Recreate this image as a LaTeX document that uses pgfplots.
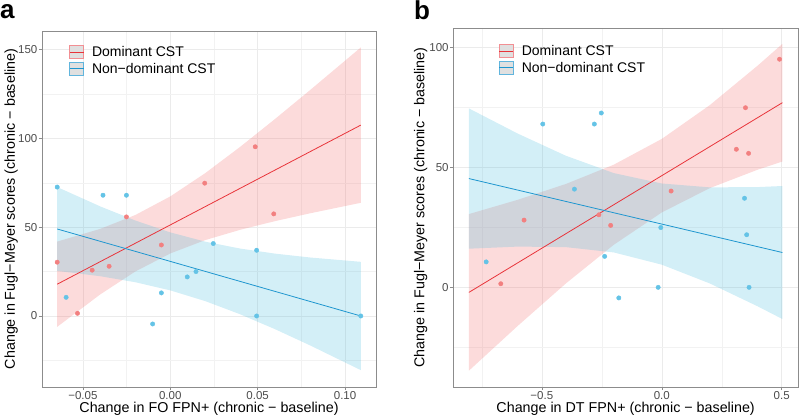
\documentclass[border=0pt]{standalone}
\usepackage{fontspec}
\setmainfont{Liberation Sans}
\usepackage{pgfplots}
\pgfplotsset{compat=1.18}
\definecolor{redline}{RGB}{232,52,58}
\definecolor{blueline}{RGB}{30,150,207}
\definecolor{redpt}{RGB}{242,128,128}
\definecolor{bluept}{RGB}{100,195,230}
\definecolor{redfill}{RGB}{243,111,111}
\definecolor{bluefill}{RGB}{80,190,222}
\definecolor{keyfill}{RGB}{224,224,224}
\pgfplotsset{
  myaxis/.style={
    scale only axis,
    axis line style={draw=black!45, line width=0.6pt},
    grid=both,
    major grid style={color=black!8, line width=0.5pt},
    minor grid style={color=black!5, line width=0.35pt},
    tick align=outside, major tick length=3pt, minor tick length=0pt,
    tick style={black!45, line width=0.5pt},
    xtick pos=bottom, ytick pos=left,
    ticklabel style={font=\fontsize{11.5}{12}\selectfont, text=black!70},
    xticklabel style={inner sep=0pt, yshift=-1.5pt},
    yticklabel style={inner sep=0pt, xshift=-1.5pt},
    label style={font=\fontsize{14.3}{15}\selectfont},
    legend cell align=left,
    legend style={draw=none, fill=none, anchor=north west, inner sep=0pt, row sep=1pt,
      font=\fontsize{14}{15}\selectfont,
      /tikz/every odd column/.append style={column sep=6pt}},
  },
  redkey/.style={legend image code/.code={
    \draw[fill=keyfill, draw=redline!55, line width=0.8pt] (0pt,-6.5pt) rectangle (14pt,6.5pt);
    \draw[redline, line width=0.8pt] (0pt,0pt) -- (14pt,0pt);}},
  bluekey/.style={legend image code/.code={
    \draw[fill=keyfill, draw=blueline!70, line width=0.8pt] (0pt,-6.5pt) rectangle (14pt,6.5pt);
    \draw[blueline, line width=0.8pt] (0pt,0pt) -- (14pt,0pt);}},
}
\begin{document}
\begin{tikzpicture}
\path[use as bounding box] (0pt,0pt) rectangle (800pt,418pt);
\node[anchor=base west, inner sep=0pt, font=\bfseries\fontsize{26}{26}\selectfont] at (0pt,399pt) {a};
\node[anchor=base west, inner sep=0pt, font=\bfseries\fontsize{26}{26}\selectfont] at (414pt,398pt) {b};
% ---------------- panel a ----------------
\begin{axis}[myaxis, at={(42pt,31pt)}, anchor=south west, width=334pt, height=356pt,
  xmin=-0.0734, xmax=0.1177, ymin=-40, ymax=160.5,
  xtick={-0.05,0,0.05,0.1}, xticklabels={−0.05,0.00,0.05,0.10},
  minor xtick={-0.025,0.025,0.075},
  ytick={0,50,100,150}, yticklabels={0,50,100,150},
  minor ytick={-25,25,75,125},
  xlabel={Change in FO FPN+ (chronic − baseline)},
  ylabel={Change in Fugl−Meyer scores (chronic − baseline)},
  xlabel style={at={(axis description cs:0.5,-0.0618)}, anchor=center},
  ylabel style={at={(axis description cs:-0.092,0.5)}, anchor=center},
  legend style={at={(0.081,0.963)}},
]
\addplot[fill=redfill, fill opacity=0.25, draw=none, forget plot] coordinates {
 (-0.0647,41.9) (-0.04,49.08) (-0.02,56.86) (0,67.33) (0.02,80.44) (0.04,95.26) (0.06,111.0) (0.08,127.23) (0.109,151.23)
 (0.109,63.75) (0.08,57.83) (0.06,53.44) (0.04,48.54) (0.02,42.74) (0,35.21) (-0.02,25.06) (-0.04,12.2) (-0.0647,-6.1)} -- cycle;
\addplot[fill=bluefill, fill opacity=0.25, draw=none, forget plot] coordinates {
 (-0.0647,72.6) (-0.04,61.68) (-0.02,53.77) (0,47.08) (0.02,41.85) (0.04,37.96) (0.06,35.11) (0.08,32.93) (0.109,30.5)
 (0.109,-30.5) (0.08,-16.57) (0.06,-7.47) (0.04,0.96) (0.02,8.37) (0,14.42) (-0.02,19.01) (-0.04,22.38) (-0.0647,25.4)} -- cycle;
\addplot[redline, line width=0.8pt, forget plot] coordinates {(-0.0647,17.9) (0.109,107.5)};
\addplot[blueline, line width=0.8pt, forget plot] coordinates {(-0.0647,49) (0.109,0)};
\addplot[only marks, mark=*, mark size=2.2pt, color=redpt, mark options={draw=none}, forget plot] coordinates {
 (-0.0647,30.3) (-0.0531,1.5) (-0.0447,25.8) (-0.035,28) (-0.0251,55.8) (-0.0051,40) (0.0197,74.8) (0.0486,95.3) (0.0592,57.5)};
\addplot[only marks, mark=*, mark size=2.2pt, color=bluept, mark options={draw=none}, forget plot] coordinates {
 (-0.0647,72.6) (-0.0596,10.5) (-0.0385,68) (-0.0251,68) (-0.0101,-4.5) (-0.0051,13) (0.0097,22) (0.0147,25) (0.0246,40.8) (0.0494,37) (0.0494,0) (0.109,0)};
\addlegendimage{redkey}
\addlegendentry{Dominant CST}
\addlegendimage{bluekey}
\addlegendentry{Non−dominant CST}
\end{axis}
% ---------------- panel b ----------------
\begin{axis}[myaxis, at={(453.3pt,31pt)}, anchor=south west, width=344.7pt, height=359pt,
  xmin=-0.869, xmax=0.568, ymin=-41.5, ymax=108,
  xtick={-0.5,0,0.5}, xticklabels={−0.5,0.0,0.5},
  minor xtick={-0.75,-0.25,0.25},
  ytick={0,50,100}, yticklabels={0,50,100},
  minor ytick={-25,25,75},
  xlabel={Change in DT FPN+ (chronic − baseline)},
  ylabel={Change in Fugl−Meyer scores (chronic − baseline)},
  xlabel style={at={(axis description cs:0.5,-0.062)}, anchor=center},
  ylabel style={at={(axis description cs:-0.0946,0.5)}, anchor=center},
  legend style={at={(0.132,0.958)}},
]
\addplot[fill=redfill, fill opacity=0.25, draw=none, forget plot] coordinates {
 (-0.804,30.51) (-0.6,36.47) (-0.4,43.04) (-0.2,51.08) (0,61.80) (0.2,75.85) (0.4,92.34) (0.503,101.39)
 (0.503,52.41) (0.4,49.00) (0.2,41.31) (0,31.18) (-0.2,17.72) (-0.4,1.60) (-0.6,-16.01) (-0.804,-34.71)} -- cycle;
\addplot[fill=bluefill, fill opacity=0.25, draw=none, forget plot] coordinates {
 (-0.804,74.51) (-0.6,64.01) (-0.4,54.81) (-0.2,47.58) (0,43.25) (0.2,41.64) (0.4,41.75) (0.503,42.20)
 (0.503,-13.20) (0.4,-7.91) (0.2,1.64) (0,9.45) (-0.2,14.54) (-0.4,16.75) (-0.6,16.97) (-0.804,16.09)} -- cycle;
\addplot[redline, line width=0.8pt, forget plot] coordinates {(-0.804,-2.1) (0.503,76.9)};
\addplot[blueline, line width=0.8pt, forget plot] coordinates {(-0.804,45.3) (0.503,14.5)};
\addplot[only marks, mark=*, mark size=2.2pt, color=redpt, mark options={draw=none}, forget plot] coordinates {
 (-0.671,1.5) (-0.574,28) (-0.262,30.2) (-0.213,25.8) (0.039,40.1) (0.311,57.5) (0.349,74.8) (0.362,55.8) (0.491,95)};
\addplot[only marks, mark=*, mark size=2.2pt, color=bluept, mark options={draw=none}, forget plot] coordinates {
 (-0.732,10.6) (-0.496,68) (-0.364,40.9) (-0.281,68) (-0.252,72.6) (-0.238,12.9) (-0.179,-4.4) (-0.015,0) (-0.004,24.9) (0.345,37.1) (0.354,21.9) (0.364,0)};
\addlegendimage{redkey}
\addlegendentry{Dominant CST}
\addlegendimage{bluekey}
\addlegendentry{Non−dominant CST}
\end{axis}
\end{tikzpicture}
\end{document}
